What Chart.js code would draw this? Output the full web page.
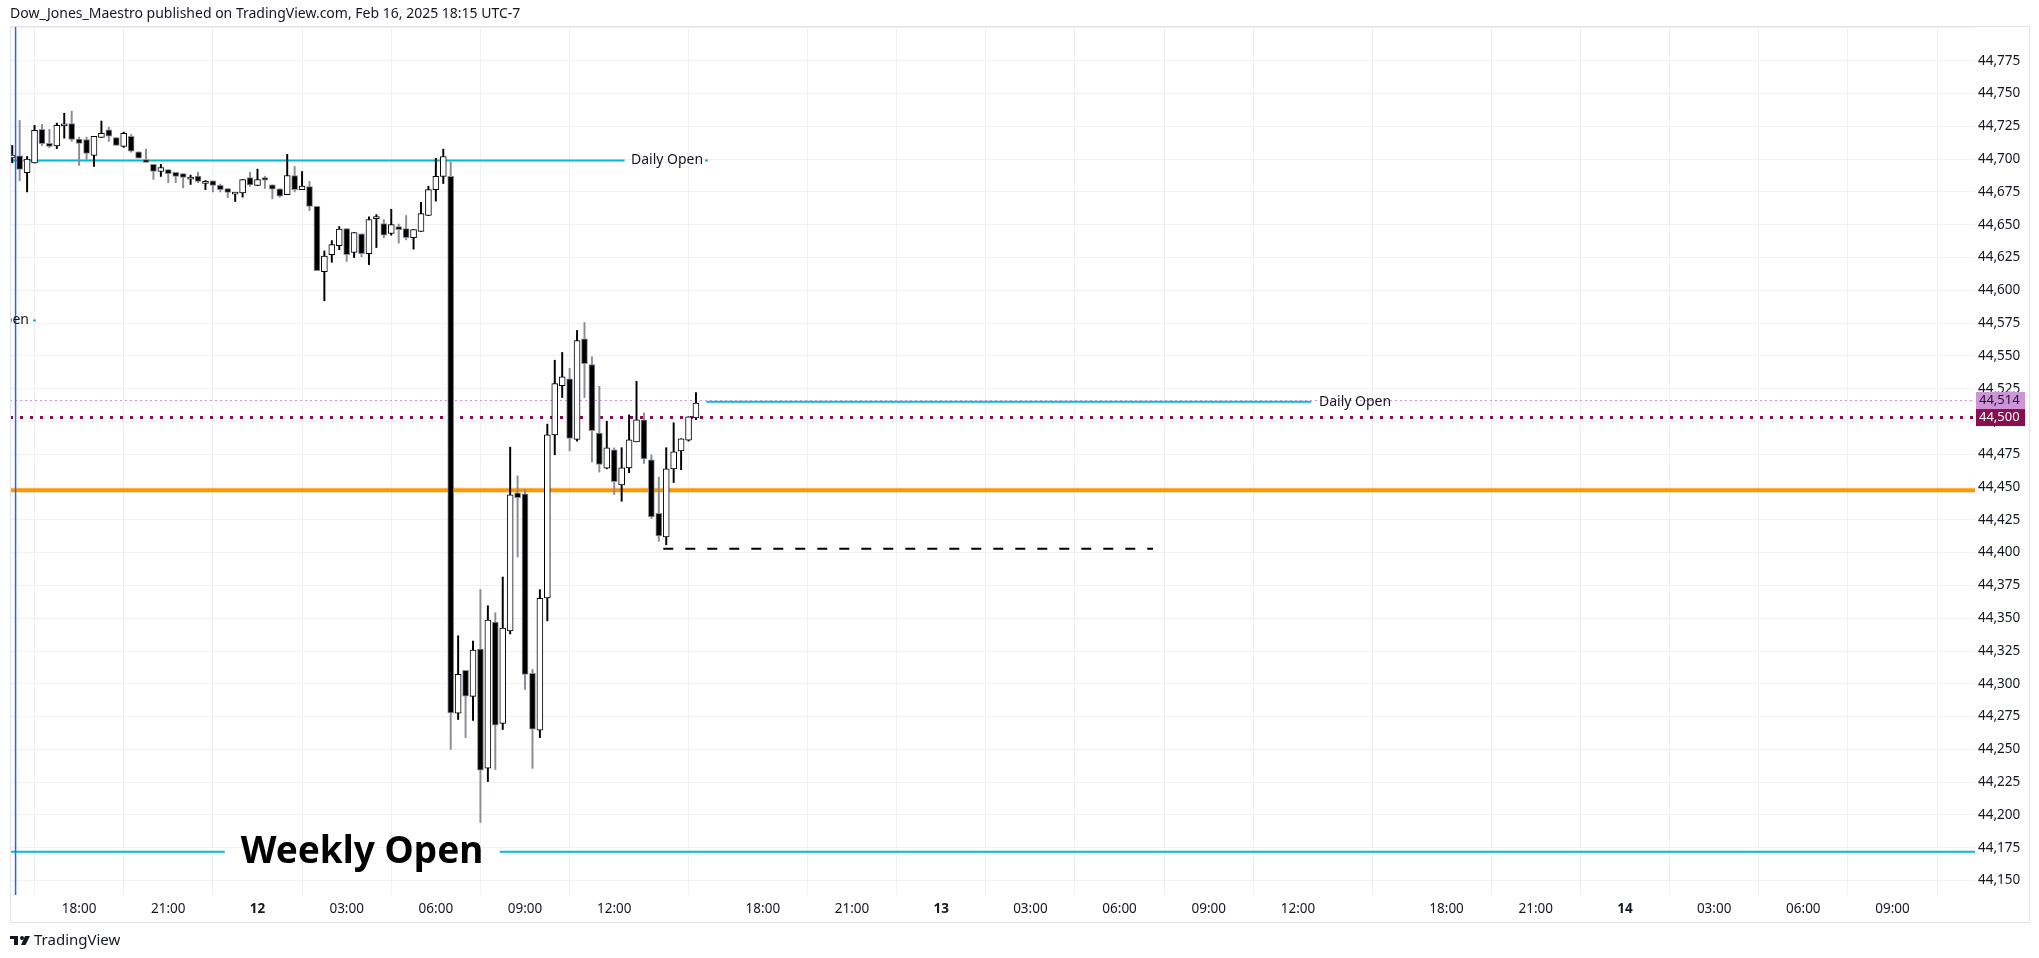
<!DOCTYPE html>
<html>
<head>
<meta charset="utf-8">
<script src="https://cdn.jsdelivr.net/npm/chart.js@4.4.1/dist/chart.umd.min.js"></script>
<style>
  html, body { margin: 0; padding: 0; background: #fff; }
  #wrap { width: 2039px; height: 958px; position: relative; }
</style>
</head>
<body>
<div id="wrap"><canvas id="chart"></canvas></div>
<script>
// 15-minute candles, x = bar index
var opens = [44701, 44702.6, 44689.6, 44697.2, 44722.7, 44712, 44710, 44726, 44727.2, 44715.3,
  44715, 44702.8, 44716.5, 44722.4, 44716.5, 44709.7, 44717.3, 44705.6, 44699.7, 44696,
  44690.6, 44692, 44690, 44689, 44684.7, 44687, 44681.4, 44683.5, 44680, 44677.6,
  44674, 44674.3, 44686, 44679.9, 44686, 44680.4, 44677.4, 44673, 44687.5, 44676.8,
  44679, 44664, 44614.2, 44627.2, 44634, 44647, 44628.8, 44643, 44628, 44654.7,
  44650.9, 44643.3, 44648.6, 44647, 44640.2, 44644.8, 44657, 44676.8, 44686.8, 44686.8,
  44277.7, 44310.2, 44290.4, 44326.5, 44235.7, 44347.1, 44269.8, 44340.3, 44445.6, 44444.9,
  44308, 44264.7, 44365.4, 44489.8, 44527.3, 44532.6, 44486.3, 44563.1, 44543.3, 44491.1,
  44464.4, 44478.4, 44451.7, 44464.6, 44484.5, 44501.3, 44470.8, 44430, 44412, 44463.9,
  44477.6, 44485.8, 44502.8];
var highs = [44710.4, 44729.5, 44702, 44725.7, 44726.5, 44722.7, 44727.5, 44735, 44736.6, 44716.8,
  44716.8, 44717.3, 44729, 44724.4, 44716.5, 44720.6, 44718.8, 44705.6, 44707.6, 44696,
  44696, 44692, 44690, 44689, 44687.8, 44690, 44683.7, 44683.5, 44681, 44677.6,
  44674.2, 44684.5, 44690, 44692.4, 44687, 44680.4, 44677.4, 44703.7, 44694.4, 44690.6,
  44683, 44664, 44630, 44637.9, 44648.6, 44647, 44644, 44643, 44656, 44657.7,
  44653.9, 44661.8, 44650.5, 44657, 44646.3, 44667, 44679.4, 44700.6, 44707.6, 44697.7,
  44336.6, 44310.2, 44332.6, 44371.8, 44359.5, 44354.2, 44381.4, 44480.4, 44458.5, 44448.4,
  44311, 44371.8, 44498, 44546.7, 44552.6, 44540.5, 44569.4, 44575.4, 44549.4, 44526.8,
  44500.2, 44479.9, 44480, 44505, 44530.6, 44506.6, 44474.5, 44457.7, 44480, 44499,
  44486.8, 44503.6, 44522];
var lows = [44697.2, 44683.5, 44675, 44697, 44710.4, 44708.7, 44708, 44716, 44713.5, 44695.2,
  44699.7, 44694.4, 44716.5, 44713.5, 44710.4, 44709, 44705.3, 44700.8, 44697.5, 44684.5,
  44686.8, 44682, 44682, 44678, 44680.7, 44682, 44676.8, 44675, 44675, 44670.7,
  44667.7, 44671, 44679.4, 44679.9, 44677.6, 44669.7, 44671, 44673, 44675, 44676.8,
  44660.8, 44615, 44592, 44621.4, 44631, 44622, 44625, 44625.5, 44619.6, 44632.6,
  44640, 44642, 44636, 44638.5, 44631.4, 44644.8, 44657, 44668, 44681.4, 44249.9,
  44272.8, 44259, 44272, 44194.2, 44225.5, 44234.7, 44265.2, 44338, 44396.7, 44295.7,
  44235.5, 44259, 44348, 44474.6, 44518.3, 44477.6, 44485, 44518.3, 44469, 44461.4,
  44463.9, 44444.3, 44439.2, 44461, 44484.5, 44468, 44426, 44408.7, 44406, 44453.5,
  44463.2, 44485, 44501.4];
var closes = [44703, 44692.1, 44700, 44721.9, 44711.7, 44709.7, 44725.7, 44726.4, 44715, 44712,
  44704.3, 44717.3, 44719.6, 44717.6, 44710.4, 44719.6, 44706.1, 44700.8, 44697.5, 44690.6,
  44693.6, 44689, 44686.8, 44686, 44686.3, 44683, 44683, 44680, 44676.8, 44674.6,
  44674.2, 44684.5, 44680.4, 44684.5, 44684, 44677.1, 44671.8, 44687.5, 44676.8, 44679.4,
  44663.9, 44615, 44626, 44634.9, 44646.6, 44627.2, 44644, 44628, 44654, 44656.2,
  44642, 44650.1, 44646.3, 44640.2, 44646.3, 44658.5, 44676.8, 44686.8, 44702, 44277.9,
  44307.2, 44290.6, 44325.8, 44234.2, 44348.6, 44268.5, 44342.5, 44444.1, 44442, 44307.2,
  44265.4, 44365.2, 44489.8, 44528.9, 44534.1, 44487, 44561.6, 44544, 44492.9, 44467.2,
  44479.9, 44454.2, 44464.6, 44486, 44501.3, 44471.5, 44427.2, 44412.7, 44463.9, 44476.9,
  44486.8, 44503.6, 44514];

var tickPos = [9, 21, 33, 45, 57, 69, 81, 101, 113, 125, 137, 149, 161, 173, 193, 205, 217, 229, 241, 253];
var tickLabels = ['18:00', '21:00', '12', '03:00', '06:00', '09:00', '12:00', '18:00', '21:00', '13',
  '03:00', '06:00', '09:00', '12:00', '18:00', '21:00', '14', '03:00', '06:00', '09:00'];

var dailyOpen1 = 44699;
var dailyOpen2 = 44515;
var prevOpenLevel = 44577;
var orangeLevel = 44447.5;
var dashedLevel = 44403;
var weeklyOpen = 44172;
var pinkLevel = 44516, pinkLabel = '44,514';
var maroonLevel = 44503, maroonLabel = '44,500';

var bodies = [], wicks = [], bodyFill = [], bodyBorder = [], wickColor = [];
for (var i = 0; i < opens.length; i++) {
  var o = opens[i], c = closes[i];
  var lo = Math.min(o, c), hi = Math.max(o, c);
  if (hi - lo < 1.6) { var m = (hi + lo) / 2; lo = m - 0.8; hi = m + 0.8; }
  bodies.push({ x: i, y: [lo, hi] });
  wicks.push({ x: i, y: [lows[i], highs[i]] });
  var up = c >= o;
  bodyFill.push(up ? '#ffffff' : '#000000');
  bodyBorder.push(up ? '#000000' : '#8a8d96');
  wickColor.push(up ? '#000000' : '#8a8d96');
}

function hline(y, x0, x1, color, width, dash) {
  return { type: 'line', data: [{ x: x0, y: y }, { x: x1, y: y }], borderColor: color, borderWidth: width,
    borderDash: dash || [], pointRadius: 0, order: 10, tension: 0 };
}

var xMin = -0.3, xMax = 264.1, yMin = 44139, yMax = 44801.5;

var font = '"Noto Sans", sans-serif';

var overlay = {
  id: 'overlay',
  afterDatasetsDraw: function (chart) {
    var ctx = chart.ctx, ys = chart.scales.y, a = chart.chartArea;
    ctx.save();
    ctx.beginPath(); ctx.rect(a.left, a.top, a.right - a.left, a.bottom - a.top); ctx.clip();
    ctx.font = '14px ' + font; ctx.fillStyle = '#131722'; ctx.textBaseline = 'middle';
    ctx.textAlign = 'left';
    ctx.fillText('Daily Open', 631, ys.getPixelForValue(dailyOpen1));
    ctx.fillText('Daily Open', 1319, ys.getPixelForValue(dailyOpen2));
    ctx.textAlign = 'right';
    ctx.fillText('Open', 29, ys.getPixelForValue(prevOpenLevel));
    ctx.fillStyle = '#00bcd4';
    ctx.fillRect(705, ys.getPixelForValue(dailyOpen1) - 1, 3, 2);
    ctx.fillRect(33, ys.getPixelForValue(prevOpenLevel) - 1, 3, 2);
    ctx.fillStyle = '#000';
    ctx.font = 'bold 37px ' + font; ctx.textAlign = 'center';
    ctx.fillText('Weekly Open', 362, ys.getPixelForValue(weeklyOpen) + 1);
    ctx.restore();
  },
  afterDraw: function (chart) {
    var ctx = chart.ctx, ys = chart.scales.y;
    ctx.save();
    ctx.strokeStyle = '#e0e3eb'; ctx.lineWidth = 1;
    ctx.strokeRect(10.5, 26.5, 2019, 896);
    ctx.font = '14px ' + font; ctx.textBaseline = 'middle'; ctx.textAlign = 'left';
    ctx.fillStyle = '#131722';
    ctx.fillText('Dow_Jones_Maestro published on TradingView.com, Feb 16, 2025 18:15 UTC-7', 10, 14);
    var boxes = [[pinkLevel, pinkLabel, '#ce93d8', '#131722'], [maroonLevel, maroonLabel, '#880e4f', '#ffffff']];
    boxes.forEach(function (b) {
      var y = ys.getPixelForValue(b[0]);
      ctx.fillStyle = b[2]; ctx.fillRect(1976, y - 8.5, 49, 17);
      ctx.fillStyle = b[3]; ctx.font = '13px ' + font; ctx.fillText(b[1], 1979, y);
    });
    // footer logo
    ctx.fillStyle = '#131722';
    ctx.fillRect(10, 936, 8, 3); ctx.fillRect(14, 936, 4, 9);
    ctx.beginPath(); ctx.arc(22, 938, 2, 0, Math.PI * 2); ctx.fill();
    ctx.beginPath(); ctx.moveTo(25, 936); ctx.lineTo(30, 936); ctx.lineTo(25.5, 945); ctx.lineTo(21, 945); ctx.closePath(); ctx.fill();
    ctx.font = '15px ' + font; ctx.fillText('TradingView', 34, 941);
    ctx.restore();
  }
};

new Chart(document.getElementById('chart'), {
  type: 'bar',
  data: {
    datasets: [
      { type: 'bar', data: bodies, backgroundColor: bodyFill, borderColor: bodyBorder, borderWidth: 1,
        borderSkipped: false, barThickness: 6, grouped: false, order: 1 },
      { type: 'bar', data: wicks, backgroundColor: wickColor, borderWidth: 0, barThickness: 1.3,
        grouped: false, order: 2 },
      hline(pinkLevel, xMin, xMax, '#ce93d8', 1, [2, 3]),
      hline(maroonLevel, xMin, xMax, '#880e4f', 3, [3, 7]),
      hline(orangeLevel, xMin, xMax, '#ff9800', 4),
      hline(dailyOpen1, xMin, 82.4, '#00bcd4', 2),
      hline(dailyOpen2, 93.4, 174.8, '#00bcd4', 2),
      hline(weeklyOpen, xMin, 28.6, '#00bcd4', 2),
      hline(weeklyOpen, 65.6, xMax, '#00bcd4', 2),
      hline(dashedLevel, 87.6, 153.5, '#000000', 2, [10, 12]),
      { type: 'line', data: [{ x: 0.45, y: yMin }, { x: 0.45, y: yMax }], borderColor: '#2962ff',
        borderWidth: 1.5, pointRadius: 0, order: 0 }
    ]
  },
  options: {
    responsive: true,
    maintainAspectRatio: false,
    devicePixelRatio: 1,
    animation: false,
    layout: { padding: { left: 10, top: 26, right: 10, bottom: 36 } },
    plugins: { legend: { display: false }, tooltip: { enabled: false } },
    scales: {
      x: {
        type: 'linear', min: xMin, max: xMax, offset: false,
        afterBuildTicks: function (s) { s.ticks = tickPos.map(function (v) { return { value: v }; }); },
        afterFit: function (s) { s.height = 27; },
        ticks: {
          autoSkip: false, maxRotation: 0, padding: 6, color: '#131722',
          callback: function (v) { var k = tickPos.indexOf(v); return k >= 0 ? tickLabels[k] : ''; },
          font: function (c) {
            var k = tickPos.indexOf(c.tick && c.tick.value);
            var lbl = tickLabels[k] || '';
            return { family: font, size: 13.5, weight: lbl.length <= 2 ? 'bold' : 'normal' };
          }
        },
        grid: { color: '#f0f1f4', drawTicks: false },
        border: { display: false }
      },
      y: {
        position: 'right', min: yMin, max: yMax,
        afterFit: function (s) { s.width = 54; },
        ticks: {
          stepSize: 25, includeBounds: false, padding: 3, color: '#131722',
          font: { family: font, size: 13.5 },
          callback: function (v) { return v > 44790 ? '' : v.toLocaleString('en-US'); }
        },
        grid: { color: '#f0f1f4', drawTicks: false },
        border: { display: false }
      }
    }
  },
  plugins: [overlay]
});
</script>
</body>
</html>
